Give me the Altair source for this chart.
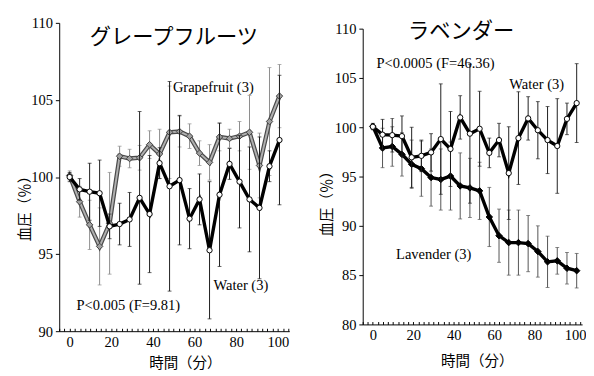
import altair as alt
import pandas as pd

# ---------------- data ----------------
times = [0, 4.8, 9.6, 14.4, 19.2, 24.0, 28.8, 33.6, 38.4, 43.2, 48.0, 52.8,
         57.6, 62.4, 67.2, 72.0, 76.8, 81.6, 86.4, 91.2, 96.0, 100.8]

grape = [100.1, 98.4, 96.9, 95.5, 97.0, 101.35, 101.2, 101.25, 102.1, 101.5, 102.9,
         102.95, 102.65, 101.55, 100.95, 102.6, 102.5, 102.65, 102.9, 100.75, 103.6, 105.25]
grape_err = [0.3, 1.0, 1.6, 2.5, 3.3, 0.65, 0.6, 0.8, 0.9, 1.6, 3.0,
             1.0, 0.8, 0.8, 1.15, 0.9, 0.6, 0.95, 2.4, 2.1, 3.5, 2.05]

water_left = [100.0, 99.2, 99.05, 98.95, 96.8, 96.95, 97.25, 98.65, 97.6, 100.9, 99.4,
              99.8, 97.3, 98.55, 95.25, 98.85, 100.85, 99.7, 98.55, 98.0, 100.7, 102.4]
water_left_err = [0.3, 0.7, 1.85, 2.15, 0.8, 1.35, 1.75, 5.6, 3.8, 1.0, 6.8,
                  4.2, 1.95, 1.65, 4.45, 4.65, 1.0, 3.0, 3.4, 4.6, 1.0, 4.2]

water_right = [100.05, 99.25, 99.2, 99.1, 96.95, 97.1, 97.45, 98.8, 97.8, 101.0, 99.35,
               99.85, 97.4, 98.7, 95.35, 98.9, 100.9, 99.7, 98.7, 98.1, 100.85, 102.45]
water_right_err = [0.3, 1.55, 1.7, 2.05, 3.05, 1.6, 1.9, 5.6, 3.8, 2.2, 7.05,
                   3.8, 1.5, 1.7, 4.7, 4.7, 2.2, 2.9, 3.4, 4.8, 1.6, 4.0]

lavender = [100.1, 97.9, 98.05, 97.25, 96.25, 95.8, 94.9, 94.7, 95.05, 94.05, 93.85,
            93.55, 90.9, 89.0, 88.3, 88.3, 88.2, 87.4, 86.35, 86.45, 85.7, 85.45]
lavender_err = [0.3, 2.0, 2.0, 2.2, 2.45, 2.8, 2.9, 3.1, 3.45, 3.35, 3.0,
                2.9, 3.0, 2.7, 3.3, 3.3, 2.85, 2.6, 2.6, 1.35, 1.6, 1.75]

left_y_ticks = [90, 95, 100, 105, 110]
right_y_ticks = [80, 85, 90, 95, 100, 105, 110]
x_ticks = [0, 20, 40, 60, 80, 100]
x_minor = [v / 2 for v in range(-10, 211, 5)]

left_title = ["グレープフルーツ"]
left_title_x = [50.1]
left_title_y = [109.1]
left_notes = ["Grapefruit (3)", "Water (3)", "P<0.005 (F=9.81)"]
left_notes_x = [49.6, 69.1, 3.3]
left_notes_y = [105.86, 93.0, 91.71]

right_title = ["ラベンダー"]
right_title_x = [43.7]
right_title_y = [109.75]
right_notes = ["P<0.0005 (F=46.36)", "Water (3)", "Lavender (3)"]
right_notes_x = [1.8, 67.5, 11.5]
right_notes_y = [106.47, 104.35, 87.1]

SERIF = "Liberation Serif"
CJK = "Noto Sans CJK JP"


def series_df(vals, errs):
    return pd.DataFrame({
        "t": times, "v": vals,
        "lo": [v - e for v, e in zip(vals, errs)],
        "hi": [v + e for v, e in zip(vals, errs)],
    })


def make_panel(series, ydomain, yticks, xdomain, width, height,
               title_txt, title_x, title_y, notes, notes_x, notes_y,
               ytitle_x, ytitle_y, xtitle_x, xtitle_y):
    xscale = alt.Scale(domain=xdomain, nice=False, zero=False)
    yscale = alt.Scale(domain=ydomain, nice=False, zero=False)
    yaxis = alt.Axis(values=yticks, title="血圧（％）", titleFont=CJK, titleFontSize=15,
                     titleFontWeight="normal", titleColor="black", titleX=ytitle_x,
                     titleY=ytitle_y, titleAngle=270, titleAlign="center",
                     titleBaseline="middle", labelFont=SERIF, labelFontSize=15,
                     labelColor="black", domainColor="black", tickColor="black",
                     tickSize=4, labelPadding=3, grid=False)
    bottom_axis = alt.Axis(values=x_ticks, title="時間（分）", titleFont=CJK, titleFontSize=15,
                           titleFontWeight="normal", titleColor="black", titleX=xtitle_x,
                           titleY=xtitle_y, titleAlign="center", titleBaseline="middle",
                           labelFont=SERIF, labelFontSize=15, labelColor="black",
                           domainColor="black", ticks=False, labelPadding=4, grid=False)
    tick_axis = alt.Axis(orient="top", offset=-height, values=x_minor, labels=False,
                         domain=False, ticks=True, tickSize=3, tickColor="black",
                         title="", grid=False)

    def X(field, axis=None):
        return alt.X(f"{field}:Q", scale=xscale, axis=axis)

    def Y(field):
        return alt.Y(f"{field}:Q", scale=yscale, axis=yaxis)

    layers = []
    first = True
    for s in series:
        df = s["df"]
        base = alt.Chart(df)
        layers.append(base.mark_rule(color=s["bar"], strokeWidth=1).encode(
            x=X("t"), y=Y("lo"), y2="hi"))
        layers.append(base.transform_fold(["lo", "hi"], as_=["end", "ev"]).mark_tick(
            color=s["bar"], orient="horizontal", size=4, thickness=1).encode(
            x=X("t"), y=Y("ev")))
        for lc, lw in s["lines"]:
            layers.append(base.mark_line(color=lc, strokeWidth=lw).encode(
                x=X("t", bottom_axis if first else None), y=Y("v")))
            first = False
        layers.append(base.mark_point(shape=s["shape"], filled=True, fill=s["fill"],
                                      stroke=s["stroke"], strokeWidth=1, size=s["size"],
                                      opacity=1).encode(x=X("t"), y=Y("v")))

    tdf = pd.DataFrame({"x": title_x, "y": title_y, "txt": title_txt})
    layers.append(alt.Chart(tdf).mark_text(font=CJK, fontSize=22, align="center",
                                           baseline="middle", color="black").encode(
        x=X("x", tick_axis), y=Y("y"), text="txt:N"))
    ndf = pd.DataFrame({"x": notes_x, "y": notes_y, "txt": notes})
    layers.append(alt.Chart(ndf).mark_text(font=SERIF, fontSize=15, align="left",
                                           baseline="middle", color="black").encode(
        x=X("x"), y=Y("y"), text="txt:N"))
    return alt.layer(*layers).resolve_axis(x="independent").properties(
        width=width, height=height)


left = make_panel(
    [
        {"df": series_df(grape, grape_err), "bar": "#8a8a8a",
         "lines": [("#4a4a4a", 4.5), ("#b0b0b0", 2)], "shape": "diamond",
         "fill": "#a0a0a0", "stroke": "#404040", "size": 45},
        {"df": series_df(water_left, water_left_err), "bar": "#1a1a1a",
         "lines": [("black", 3.5)], "shape": "circle",
         "fill": "white", "stroke": "black", "size": 30},
    ],
    [90, 110], left_y_ticks, [-5, 105.5], 238, 319,
    left_title, left_title_x, left_title_y, left_notes, left_notes_x, left_notes_y,
    -36, 188, 130, 33)

right = make_panel(
    [
        {"df": series_df(lavender, lavender_err), "bar": "#505050",
         "lines": [("black", 3.5)], "shape": "diamond",
         "fill": "black", "stroke": "black", "size": 45},
        {"df": series_df(water_right, water_right_err), "bar": "#1a1a1a",
         "lines": [("black", 3.5)], "shape": "circle",
         "fill": "white", "stroke": "black", "size": 30},
    ],
    [80, 110], right_y_ticks, [-5, 103.5], 227, 306,
    right_title, right_title_x, right_title_y, right_notes, right_notes_x, right_notes_y,
    -37, 177, 118, 37)

spacer = alt.Chart(pd.DataFrame({"a": [0]})).mark_point(opacity=0, size=1).encode(
    x=alt.value(0), y=alt.value(0)).properties(width=1, height=1)

right_col = alt.vconcat(spacer, right, spacing=-4)

chart = alt.hconcat(left, right_col, spacing=32).properties(
    padding={"left": 10, "top": 2, "right": 0, "bottom": 0}
).configure_view(strokeWidth=0)

chart.save("out.html", embed_options={"renderer": "svg", "actions": False})
